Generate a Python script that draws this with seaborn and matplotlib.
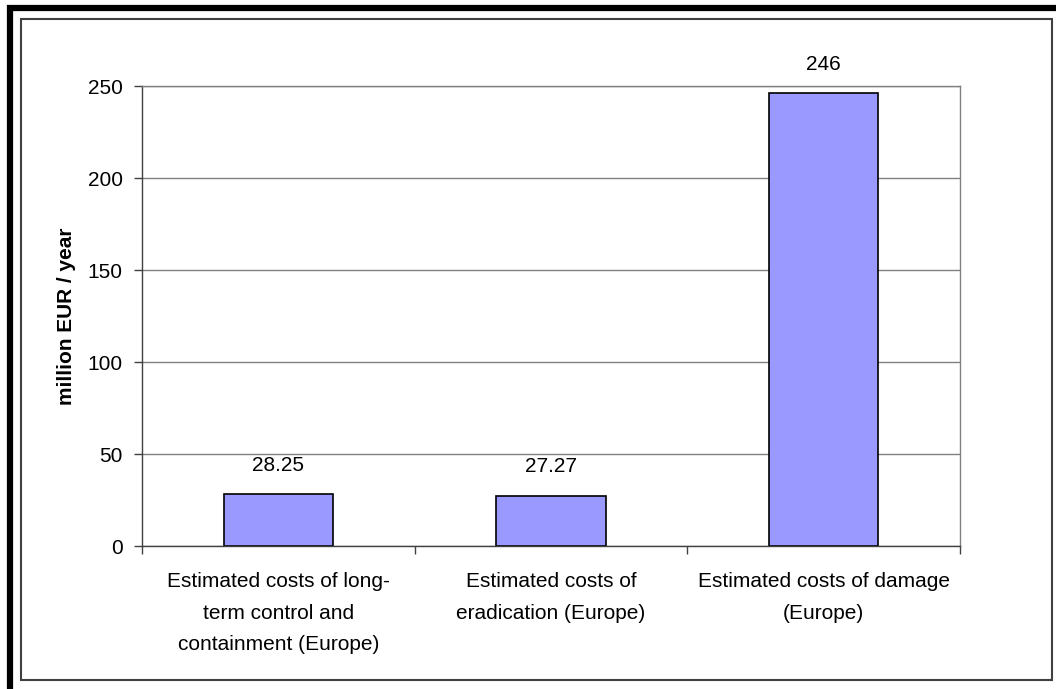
import matplotlib
matplotlib.use("Agg")
import matplotlib.pyplot as plt
from matplotlib.lines import Line2D
from matplotlib.patches import Rectangle
import seaborn as sns
import pandas as pd

categories = [
    "Estimated costs of long-\nterm control and\ncontainment (Europe)",
    "Estimated costs of\neradication (Europe)",
    "Estimated costs of damage\n(Europe)",
]
values = [28.25, 27.27, 246]
value_labels = ["28.25", "27.27", "246"]
y_ticks = [0, 50, 100, 150, 200, 250]

sns.set_theme(style="white")
plt.rcParams["font.family"] = ["Liberation Sans", "DejaVu Sans"]
plt.rcParams["text.color"] = "black"
plt.rcParams["axes.labelcolor"] = "black"
plt.rcParams["xtick.color"] = "black"
plt.rcParams["ytick.color"] = "black"

df = pd.DataFrame({"category": categories, "value": values})

W, H = 1056, 689
fig = plt.figure(figsize=(W / 100, H / 100), dpi=100)
fig.patch.set_facecolor("white")

ax = fig.add_axes([142 / W, 1 - 546 / H, (960 - 142) / W, (546 - 86) / H])
sns.barplot(data=df, x="category", y="value", color="#9999FF",
            edgecolor="black", linewidth=1.2, width=0.4, saturation=1, ax=ax)

ax.set_ylim(0, 250)
ax.set_xlim(-0.5, 2.5)
ax.set_yticks(y_ticks)
ax.set_yticklabels([str(t) for t in y_ticks], fontsize=15, color="black")
ax.yaxis.grid(True, color="#808080", linewidth=1)
ax.set_axisbelow(True)

# x ticks sit on category boundaries, labels centered under each bar
ax.set_xticks([-0.5, 0.5, 1.5, 2.5])
ax.set_xticklabels([])
ax.tick_params(axis="x", which="major", bottom=True, length=6, width=1, color="#404040")
ax.set_xticks([0, 1, 2], minor=True)
ax.set_xticklabels(categories, minor=True, fontsize=15, linespacing=1.82, color="black")
ax.tick_params(axis="x", which="minor", bottom=False, length=0, pad=19)
ax.tick_params(axis="y", left=True, length=6, width=1, color="#404040", pad=8)

for side in ["top", "right"]:
    ax.spines[side].set_color("#808080")
    ax.spines[side].set_linewidth(1)
for side in ["left", "bottom"]:
    ax.spines[side].set_color("#404040")
    ax.spines[side].set_linewidth(1)

ax.set_xlabel("")
ax.set_ylabel("million EUR / year", fontsize=15, fontweight="bold",
              labelpad=8, color="black")

for i, (v, lab) in enumerate(zip(values, value_labels)):
    ax.annotate(lab, (i, v), xytext=(0, 14), textcoords="offset points",
                ha="center", va="bottom", fontsize=15, color="black")

# chart-area frame and outer heavy border
fig.patches.append(Rectangle((21 / W, 1 - 680 / H), (1052 - 21) / W, (680 - 19) / H,
                             transform=fig.transFigure, fill=False,
                             edgecolor="#404040", linewidth=1.5))
fig.lines.append(Line2D([10 / W, 10 / W], [0, 1 - 5 / H], transform=fig.transFigure,
                        color="black", linewidth=4.5, solid_capstyle="butt"))
fig.lines.append(Line2D([7 / W, 1], [1 - 8 / H, 1 - 8 / H], transform=fig.transFigure,
                        color="black", linewidth=4.5, solid_capstyle="butt"))

fig.savefig("out.png", dpi=100)
